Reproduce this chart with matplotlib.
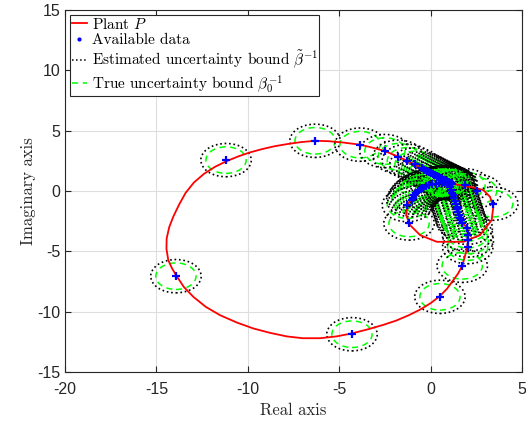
import numpy as np
import matplotlib
matplotlib.use('Agg')
import matplotlib.pyplot as plt
from matplotlib.patches import Circle
from matplotlib.lines import Line2D

# Nyquist curve of the plant
plant_re = [-0.49, 0.34, 1.07, 1.8, 2.34, 2.89, 3.25, 3.43, 3.34, 2.7, 1.8, 0.34, -0.57, -1.12, -1.34,
            -1.27, -0.94, -0.67, -0.21, 0.34, 0.9, 1.05, 1.3, 1.5, 1.72, 2.0, 2.06, 1.97, 1.73, 1.5,
            1.24, 0.9, 0.51, 0.0, -0.6, -1.2, -1.9, -2.6, -3.4, -4.3, -5.15, -6.05, -7.0, -7.87,
            -8.8, -9.7, -10.6, -11.52, -12.3, -12.98, -13.5, -13.89, -14.15, -14.35, -14.45, -14.44,
            -14.3, -14.08, -13.75, -13.4, -12.95, -12.4, -11.8, -11.15, -10.5, -9.88, -9.2, -8.5,
            -7.8, -7.1, -6.32, -5.6, -4.8, -3.86, -3.2, -2.5, -1.77, -1.27, -0.85, -0.49]
plant_im = [1.87, 1.18, 0.68, 0.41, 0.3, 0.07, -0.48, -1.31, -2.41, -3.66, -4.21, -4.21, -3.66, -2.83, -2.0,
            -1.17, -0.34, 0.07, 0.41, 0.63, 0.7, 0.55, -0.6, -1.5, -2.6, -3.05, -4.07, -4.9, -6.2, -6.85,
            -7.39, -8.1, -8.7, -9.3, -9.85, -10.3, -10.75, -11.1, -11.45, -11.8, -12.05, -12.2, -12.2, -12.05,
            -11.75, -11.39, -10.9, -10.29, -9.6, -8.77, -7.95, -7.06, -6.4, -5.73, -4.8, -3.94,
            -3.0, -2.14, -1.1, -0.15, 0.7, 1.42, 2.0, 2.48, 2.88, 3.2, 3.48, 3.72,
            3.9, 4.05, 4.16, 4.13, 4.02, 3.84, 3.6, 3.31, 2.84, 2.5, 2.2, 1.87]

# measured frequency-response points
data_re = [-6.32, -11.19, -13.93, -4.3, 0.51, 1.73, 2.03, 2.06, 2.02, 2.0,
           -3.86, -2.5, -1.77, -1.27, -0.85, -0.49,
           1.88, 2.52, 3.4, -1.18, -1.27,
           -0.35, -0.22, -0.1, 0.02, 0.13, 0.24, 0.34, 0.44, 0.53, 0.62, 0.7, 0.78, 0.85, 0.92,
           0.98, 1.04, 1.09, 1.14, 1.18,
           1.02, 1.07, 1.12, 1.17, 1.22, 1.27, 1.32, 1.37, 1.42, 1.47, 1.52, 1.57, 1.62, 1.67, 1.72,
           -1.03, -0.98, -0.9, -0.8, -0.68, -0.55, -0.4, -0.24, -0.08, 0.1, 0.27, 0.44, 0.6, 0.75, 0.9]
data_im = [4.16, 2.56, -7.06, -11.87, -8.77, -6.2, -4.65, -4.1, -3.62, -3.05,
           3.84, 3.31, 2.84, 2.5, 2.2, 1.87,
           0.47, 0.0, -1.05, -2.69, -1.17,
           1.76, 1.66, 1.56, 1.47, 1.38, 1.3, 1.22, 1.15, 1.08, 1.01, 0.95, 0.89, 0.84, 0.79,
           0.74, 0.7, 0.66, 0.63, 0.6,
           0.55, 0.32, 0.09, -0.14, -0.37, -0.6, -0.83, -1.06, -1.29, -1.52, -1.75, -1.98, -2.21, -2.44, -2.65,
           -0.76, -0.55, -0.35, -0.17, 0.0, 0.14, 0.26, 0.38, 0.47, 0.55, 0.61, 0.66, 0.7, 0.72, 0.72]

r_est = 1.38   # estimated bound radius
r_true = 1.1   # true bound radius

plt.rcParams['mathtext.fontset'] = 'cm'
plt.rcParams['axes.unicode_minus'] = False

fig = plt.figure(figsize=(5.26, 4.23), dpi=100)
ax = fig.add_axes([65/526, 1-372/423, 457/526, 362/423])

# one black + one green circle per point, drawn in turn
for x, y in zip(data_re, data_im):
    ax.add_patch(Circle((x, y), r_est, fill=False, ls=':', lw=1.2, ec='k', zorder=2))
    ax.add_patch(Circle((x, y), r_true, fill=False, ls=(0, (4, 3)), lw=1.1, ec=(0, 1, 0), zorder=2))

ax.plot(plant_re, plant_im, color='r', lw=1.3, zorder=4)
ax.plot(data_re, data_im, ls='none', marker='+', color='b', ms=6, mew=1.6, zorder=5)

ax.set_xlim(-20, 5)
ax.set_ylim(-15, 15)
ax.set_xticks(np.arange(-20, 6, 5))
ax.set_yticks(np.arange(-15, 16, 5))
ax.grid(True, color='#dedede', lw=0.8)
ax.set_axisbelow(True)
ax.tick_params(direction='in', top=True, right=True, length=4, colors='#262626', labelsize=11.5)
ax.tick_params(axis='x', pad=7)
for lab in ax.get_xticklabels() + ax.get_yticklabels():
    lab.set_family('Liberation Sans')
for s in ax.spines.values():
    s.set_color('#262626')
    s.set_linewidth(0.8)

ax.set_xlabel('Real axis', family='cmr10', fontsize=12, color='#262626', labelpad=4)
ax.set_ylabel('Imaginary axis', family='cmr10', fontsize=12, color='#262626', labelpad=1)

handles = [Line2D([], [], color='r', lw=1.3),
           Line2D([], [], ls='none', marker='.', color='b', ms=4),
           Line2D([], [], color='k', ls=':', lw=1.1),
           Line2D([], [], color=(0, 1, 0), ls=(0, (4, 3)), lw=1.1)]
labels = ['Plant $P$', 'Available data',
          r'Estimated uncertainty bound $\tilde{\beta}^{-1}$',
          r'True uncertainty bound $\beta_0^{-1}$']
leg = ax.legend(handles, labels, loc='upper left', bbox_to_anchor=(0.0115, 0.986),
                prop={'family': 'cmr10', 'size': 11}, handlelength=1.0, handletextpad=0.3,
                borderpad=0.1, labelspacing=0.12, borderaxespad=0, fancybox=False, framealpha=1)
leg.get_frame().set_edgecolor('#262626')
leg.get_frame().set_linewidth(0.8)

fig.savefig('out.png', dpi=100)
